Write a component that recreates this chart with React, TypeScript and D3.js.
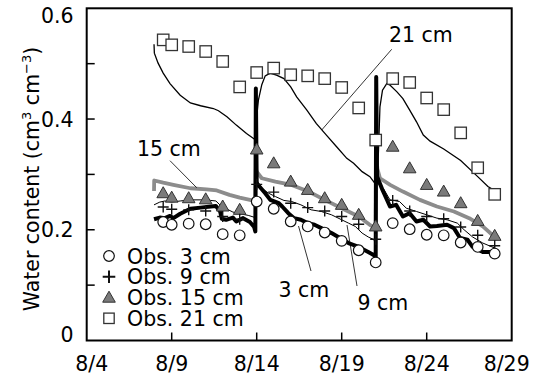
import React from "react";
import * as d3 from "d3";

// ---- data ----
const obsDays = [8.5, 9, 10, 11, 12, 13, 14, 15, 16, 17, 18, 19, 20, 21, 22, 23, 24, 25, 26, 27, 28];
const obs3 = [0.214, 0.209, 0.211, 0.210, 0.192, 0.190, 0.251, 0.238, 0.215, 0.206, 0.195, 0.180, 0.163, 0.141, 0.212, 0.201, 0.191, 0.190, 0.177, 0.169, 0.157];
const obs9 = [0.241, 0.237, 0.236, 0.234, 0.224, 0.219, 0.282, 0.268, 0.248, 0.240, 0.234, 0.224, 0.210, 0.183, 0.253, 0.234, 0.224, 0.220, 0.205, 0.190, 0.171];
const obs15 = [0.266, 0.258, 0.257, 0.255, 0.242, 0.236, 0.345, 0.320, 0.287, 0.272, 0.257, 0.245, 0.227, 0.206, 0.350, 0.311, 0.281, 0.269, 0.248, 0.216, 0.189];
const obs21 = [0.543, 0.534, 0.531, 0.522, 0.504, 0.458, 0.484, 0.492, 0.480, 0.478, 0.473, 0.457, 0.420, 0.362, 0.473, 0.466, 0.438, 0.417, 0.375, 0.312, 0.264];

const sim3: [number, number][] = [[7.96,0.219],[8.3,0.222],[8.6,0.221],[8.9,0.225],[9.1,0.221],[9.5,0.229],[10.1,0.238],[10.7,0.240],[11.3,0.242],[11.6,0.243],[11.85,0.233],[11.95,0.220],[12.2,0.218],[12.6,0.222],[12.8,0.215],[13.2,0.221],[13.6,0.214],[13.85,0.205],[13.92,0.197],[13.95,0.455],[14.0,0.284],[14.5,0.266],[14.8,0.254],[15.3,0.248],[15.5,0.242],[15.86,0.230],[16.2,0.221],[16.6,0.218],[17.0,0.212],[17.4,0.209],[17.8,0.203],[18.4,0.194],[18.8,0.187],[19.4,0.176],[20.0,0.169],[20.56,0.160],[20.9,0.154],[21.0,0.150],[21.03,0.476],[21.08,0.296],[21.4,0.272],[21.84,0.242],[22.2,0.245],[22.6,0.224],[23.0,0.230],[23.4,0.215],[23.8,0.218],[24.2,0.206],[24.6,0.207],[25.2,0.209],[25.6,0.203],[25.96,0.185],[26.4,0.182],[26.7,0.169],[27.3,0.160],[27.7,0.160],[28.15,0.154]];
const sim9: [number, number][] = [[7.96,0.245],[8.3,0.250],[8.6,0.252],[9.0,0.250],[9.5,0.252],[10.1,0.254],[11.0,0.254],[11.6,0.252],[11.9,0.243],[12.2,0.238],[12.6,0.232],[13.0,0.229],[13.5,0.226],[13.92,0.222],[13.95,0.42],[14.0,0.29],[14.3,0.275],[14.7,0.266],[15.1,0.260],[15.6,0.253],[16.06,0.251],[16.6,0.245],[17.2,0.236],[17.8,0.233],[18.4,0.227],[19.0,0.218],[19.4,0.212],[19.8,0.206],[20.2,0.194],[20.56,0.187],[20.9,0.182],[21.0,0.17],[21.03,0.45],[21.1,0.285],[21.5,0.272],[21.84,0.254],[22.4,0.251],[22.8,0.239],[23.4,0.233],[24.0,0.227],[24.6,0.221],[25.2,0.218],[25.8,0.212],[26.2,0.200],[26.7,0.187],[27.3,0.176],[28.0,0.167],[28.15,0.165]];
const sim15: [number, number][] = [[7.96,0.27],[7.97,0.289],[8.5,0.285],[9.1,0.281],[10.1,0.275],[11.05,0.273],[11.65,0.271],[12.4,0.263],[13.0,0.258],[13.6,0.254],[13.93,0.252],[13.95,0.31],[14.0,0.305],[14.3,0.293],[15.1,0.287],[16.05,0.281],[17.05,0.269],[18.0,0.254],[19.0,0.239],[20.0,0.224],[20.65,0.209],[21.0,0.203],[21.03,0.334],[21.1,0.31],[21.25,0.293],[21.85,0.281],[22.6,0.269],[23.6,0.254],[24.6,0.242],[25.6,0.233],[26.5,0.221],[27.3,0.206],[28.0,0.187],[28.15,0.182]];
const sim21: [number, number][] = [[7.96,0.535],[7.98,0.519],[8.2,0.501],[8.5,0.483],[8.9,0.464],[9.5,0.443],[10.1,0.429],[10.7,0.424],[11.45,0.419],[11.75,0.415],[12.25,0.404],[12.8,0.389],[13.4,0.374],[13.95,0.362],[14.0,0.404],[14.1,0.434],[14.3,0.462],[14.5,0.478],[14.8,0.483],[15.2,0.479],[15.6,0.473],[16.0,0.458],[16.35,0.440],[16.95,0.416],[17.5,0.392],[18.1,0.371],[18.7,0.350],[19.3,0.329],[19.7,0.320],[20.2,0.305],[20.66,0.296],[21.0,0.282],[21.1,0.300],[21.16,0.340],[21.25,0.422],[21.4,0.452],[21.65,0.464],[21.85,0.461],[22.25,0.449],[22.6,0.437],[23.0,0.416],[23.4,0.395],[23.8,0.371],[24.2,0.360],[25.0,0.346],[26.0,0.325],[27.0,0.296],[27.6,0.278],[28.15,0.268]];

const xTicks = [4, 9, 14, 19, 24, 29];
const xTickLabels = ["8/4", "8/9", "8/14", "8/19", "8/24", "8/29"];
const yTicks = [0, 0.1, 0.2, 0.3, 0.4, 0.5, 0.6];
const yTickLabels = ["0", "", "0.2", "", "0.4", "", "0.6"];
const legendLabels = ["Obs. 3 cm", "Obs. 9 cm", "Obs. 15 cm", "Obs. 21 cm"];

const FONT = "DejaVu Sans, sans-serif";
const FS = 20.5;

export default function App() {
  const x = d3.scaleLinear().domain([4, 29]).range([86.7, 511.7]);
  const y = d3.scaleLinear().domain([0, 0.6]).range([340.5, 8.3]);
  const line = d3.line<[number, number]>().x((d) => x(d[0])).y((d) => y(d[1]));
  const x0 = x(4), x1 = x(29), y0 = y(0), y1 = y(0.6);

  const circle = (cx: number, cy: number, k: string) => (
    <circle key={k} cx={cx} cy={cy} r={5.3} fill="#fff" stroke="#111" strokeWidth={1.2} />
  );
  const plus = (cx: number, cy: number, k: string, s = 5.5, w = 1.4) => (
    <path key={k} d={`M${cx - s},${cy}H${cx + s}M${cx},${cy - s}V${cy + s}`} stroke="#111" strokeWidth={w} fill="none" />
  );
  const tri = (cx: number, cy: number, k: string) => (
    <path key={k} d={`M${cx},${cy - 6.5}L${cx + 6.3},${cy + 4.5}L${cx - 6.3},${cy + 4.5}Z`} fill="#7a7a7a" stroke="#333" strokeWidth={1} />
  );
  const square = (cx: number, cy: number, k: string, s = 5.7) => (
    <rect key={k} x={cx - s} y={cy - s} width={2 * s} height={2 * s} fill="#fff" stroke="#333" strokeWidth={1.3} />
  );

  const legendY = [256, 276.7, 297.7, 318.3];

  return (
    <svg width={539} height={376} style={{ position: "absolute", left: 0, top: 0, background: "#fff" }} fontFamily={FONT}>
      {/* simulated lines */}
      <path d={line(sim21) || ""} fill="none" stroke="#000" strokeWidth={1.3} />
      <path d={line(sim15) || ""} fill="none" stroke="#8c8c8c" strokeWidth={3.8} strokeLinejoin="round" />
      <path d={line(sim9) || ""} fill="none" stroke="#000" strokeWidth={1} />
      <path d={line(sim3) || ""} fill="none" stroke="#000" strokeWidth={4} strokeLinejoin="round" />

      {/* observations */}
      {obsDays.map((d, i) => square(x(d), y(obs21[i]), "s" + i))}
      {obsDays.map((d, i) => tri(x(d), y(obs15[i]), "t" + i))}
      {obsDays.map((d, i) => plus(x(d), y(obs9[i]), "p" + i))}
      {obsDays.map((d, i) => circle(x(d), y(obs3[i]), "c" + i))}

      {/* frame */}
      <rect x={x0} y={y1} width={x1 - x0} height={y0 - y1} fill="none" stroke="#000" strokeWidth={2} />
      {yTicks.slice(1, -1).map((t) => (
        <line key={"yt" + t} x1={x0} x2={x0 + 8} y1={y(t)} y2={y(t)} stroke="#000" strokeWidth={1.5} />
      ))}
      {xTicks.slice(1, -1).map((t) => (
        <line key={"xt" + t} x1={x(t)} x2={x(t)} y1={y0} y2={y0 - 8} stroke="#000" strokeWidth={1.5} />
      ))}

      {/* tick labels */}
      {yTicks.map((t, i) =>
        yTickLabels[i] ? (
          <text key={"yl" + t} x={73.5} y={y(t) + 7.5 + (t === 0 ? -6 : t === 0.6 ? 7 : 0)} textAnchor="end" fontSize={FS}>
            {yTickLabels[i]}
          </text>
        ) : null
      )}
      {xTicks.map((t, i) => (
        <text key={"xl" + t} x={x(t) + (i === 0 ? 5 : i === xTicks.length - 1 ? -5 : 0)} y={371} textAnchor="middle" fontSize={FS}>
          {xTickLabels[i]}
        </text>
      ))}

      {/* y axis title */}
      <text transform="translate(38.5,179) rotate(-90)" textAnchor="middle" fontSize={FS}>
        Water content (cm<tspan dy={-8} fontSize={13}>3</tspan>
        <tspan dy={8}> cm</tspan>
        <tspan dy={-8} fontSize={13}>−3</tspan>
        <tspan dy={8}>)</tspan>
      </text>

      {/* line labels */}
      <text x={137} y={155.5} fontSize={FS}>15 cm</text>
      <line x1={170} y1={160.7} x2={196.7} y2={187.7} stroke="#000" strokeWidth={0.8} />
      <text x={389} y={41.5} fontSize={FS}>21 cm</text>
      <line x1={391.7} y1={49.3} x2={321.7} y2={130} stroke="#000" strokeWidth={0.8} />
      <text x={278.5} y={297} fontSize={FS}>3 cm</text>
      <line x1={298.5} y1={226} x2={311} y2={271} stroke="#000" strokeWidth={0.8} />
      <text x={357.5} y={310} fontSize={FS}>9 cm</text>
      <line x1={347} y1={225} x2={357} y2={286} stroke="#000" strokeWidth={0.8} />

      {/* legend */}
      {circle(109, legendY[0], "lc")}
      {plus(109, legendY[1], "lp", 6.3, 2)}
      {tri(109, legendY[2], "lt")}
      {square(109, legendY[3], "ls", 5.2)}
      {legendLabels.map((l, i) => (
        <text key={"lg" + i} x={127} y={legendY[i] + 7.5} fontSize={FS}>
          {l}
        </text>
      ))}
    </svg>
  );
}
